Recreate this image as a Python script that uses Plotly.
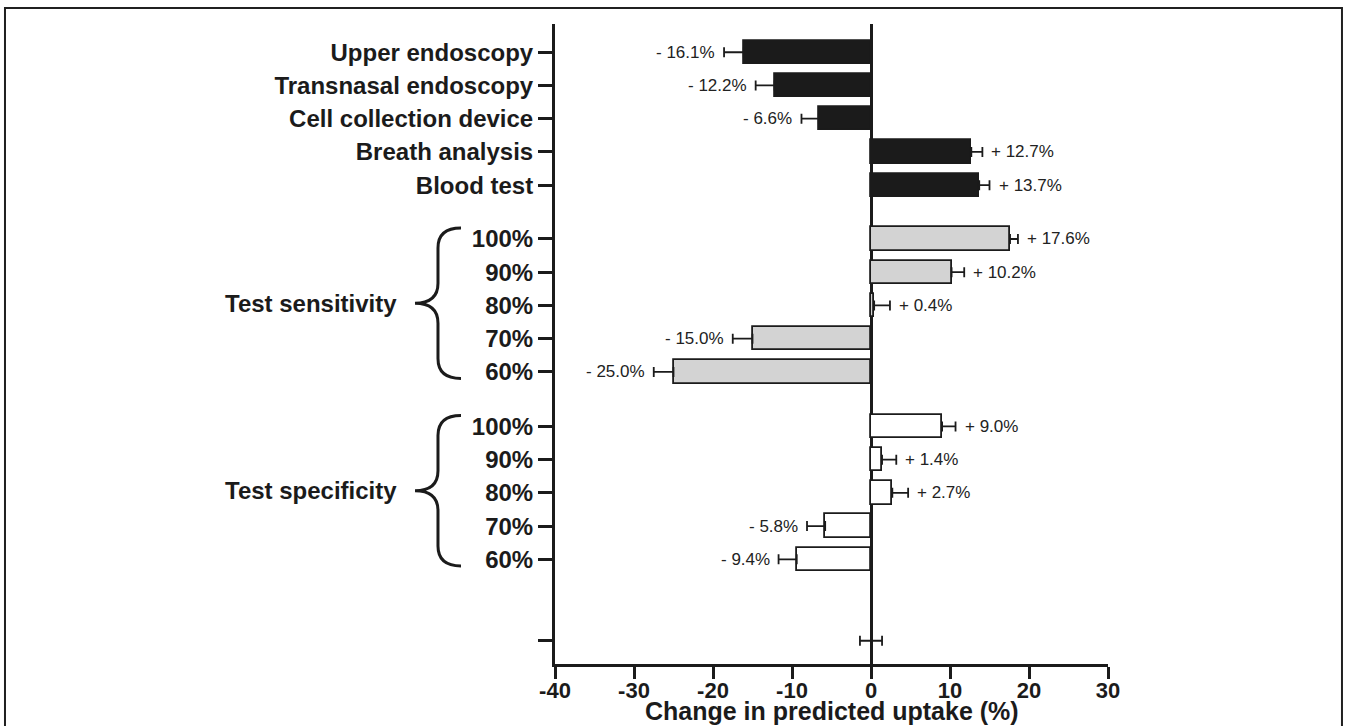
import plotly.graph_objects as go

# ---------------- data ----------------
device_labels = ["Upper endoscopy", "Transnasal endoscopy", "Cell collection device",
                 "Breath analysis", "Blood test"]
device_values = [-16.1, -12.2, -6.6, 12.7, 13.7]
device_err = [2.5, 2.4, 2.2, 1.4, 1.3]

sens_labels = ["100%", "90%", "80%", "70%", "60%"]
sens_values = [17.6, 10.2, 0.4, -15.0, -25.0]
sens_err = [1.0, 1.6, 2.0, 2.5, 2.5]

spec_labels = ["100%", "90%", "80%", "70%", "60%"]
spec_values = [9.0, 1.4, 2.7, -5.8, -9.4]
spec_err = [1.7, 1.8, 2.0, 2.3, 2.3]

reference_value = [0.0]
reference_err = [1.4]

x_tick_values = [-40, -30, -20, -10, 0, 10, 20, 30]
x_tick_labels = ["-40", "-30", "-20", "-10", "0", "10", "20", "30"]

group_names = ["Test sensitivity", "Test specificity"]
x_title = "Change in predicted uptake (%)"

# ---------------- layout helpers ----------------
gaps = [1.62, 1.64, 2.45]
def positions(n, start):
    return [start + i for i in range(n)]
pos_device = positions(len(device_values), 0.0)
pos_sens = positions(len(sens_values), pos_device[-1] + gaps[0])
pos_spec = positions(len(spec_values), pos_sens[-1] + gaps[1])
pos_ref = [pos_spec[-1] + gaps[2]]

BLACK = "#1b1b1b"
GRAY = "#d3d3d3"
WHITE = "#ffffff"
BAR_W = 0.7
FONT = "Liberation Sans"


def one_sided(values, errs):
    plus = [e if v >= 0 else 0 for v, e in zip(values, errs)]
    minus = [e if v < 0 else 0 for v, e in zip(values, errs)]
    return plus, minus


fig = go.Figure()

for vals, errs, pos, fill in [
    (device_values, device_err, pos_device, BLACK),
    (sens_values, sens_err, pos_sens, GRAY),
    (spec_values, spec_err, pos_spec, WHITE),
]:
    plus, minus = one_sided(vals, errs)
    fig.add_trace(go.Bar(
        x=vals, y=pos, orientation="h", width=BAR_W,
        marker=dict(color=fill, line=dict(color=BLACK, width=1.8)),
        error_x=dict(type="data", symmetric=False, array=plus, arrayminus=minus,
                     color=BLACK, thickness=1.8, width=5),
        showlegend=False, hoverinfo="x",
    ))

fig.add_trace(go.Scatter(
    x=reference_value, y=pos_ref, mode="markers",
    marker=dict(size=1, color="rgba(0,0,0,0)"),
    error_x=dict(type="data", array=reference_err, color=BLACK, thickness=1.8, width=5),
    showlegend=False, hoverinfo="skip",
))

annotations = []
for vals, errs, pos in [(device_values, device_err, pos_device),
                        (sens_values, sens_err, pos_sens),
                        (spec_values, spec_err, pos_spec)]:
    for v, e, p in zip(vals, errs, pos):
        if v < 0:
            annotations.append(dict(x=v - e, y=p, xref="x", yref="y",
                                    text="- %.1f%%" % abs(v),
                                    showarrow=False, xanchor="right", xshift=-7,
                                    font=dict(family=FONT, size=17, color="#222")))
        else:
            annotations.append(dict(x=v + e, y=p, xref="x", yref="y",
                                    text="+ %.1f%%" % v,
                                    showarrow=False, xanchor="left", xshift=7,
                                    font=dict(family=FONT, size=17, color="#222")))

shapes = []
x_tip, x_stem, x_end = -0.2532, -0.2116, -0.1700
for name, pos in zip(group_names, [pos_sens, pos_spec]):
    top = pos[0] - 0.33
    bot = pos[-1] + 0.2
    mid = (top + bot) / 2
    d = 0.6
    path = (f"M {x_end},{top} Q {x_stem},{top} {x_stem},{top + d} "
            f"L {x_stem},{mid - d} Q {x_stem},{mid} {x_tip},{mid} "
            f"Q {x_stem},{mid} {x_stem},{mid + d} "
            f"L {x_stem},{bot - d} Q {x_stem},{bot} {x_end},{bot}")
    shapes.append(dict(type="path", path=path, xref="paper", yref="y",
                       line=dict(color=BLACK, width=3)))
    annotations.append(dict(x=-0.282, y=mid, xref="paper", yref="y", text=name,
                            showarrow=False, xanchor="right",
                            font=dict(family=FONT, size=24, color=BLACK, weight="bold")))

# x-axis title
annotations.append(dict(x=0.5, y=-0.074, xref="paper", yref="paper", text=x_title,
                        showarrow=False, xanchor="center", yanchor="middle",
                        font=dict(family=FONT, size=25, color=BLACK, weight="bold")))

# outer frame
shapes.append(dict(type="rect", xref="paper", yref="paper",
                   x0=-0.9946, x1=1.4231, y0=-0.2, y1=1.025,
                   line=dict(color="#202020", width=2), fillcolor="rgba(0,0,0,0)"))

y_tickvals = pos_device + pos_sens + pos_spec + pos_ref
y_ticktext = device_labels + sens_labels + spec_labels + [""]

fig.update_layout(
    width=1349, height=726,
    margin=dict(l=555, r=241, t=24, b=62),
    paper_bgcolor="white", plot_bgcolor="white",
    bargap=0,
    shapes=shapes,
    annotations=annotations,
    xaxis=dict(
        range=[-40, 30], tickvals=x_tick_values, ticktext=x_tick_labels,
        showgrid=False, zeroline=True, zerolinecolor=BLACK, zerolinewidth=3,
        showline=True, linecolor=BLACK, linewidth=3,
        ticks="outside", ticklen=12, tickwidth=3, tickcolor=BLACK,
        ticklabelstandoff=-7,
        tickfont=dict(family=FONT, size=22, color=BLACK, weight="bold"),
        automargin=False, fixedrange=True,
    ),
    yaxis=dict(
        range=[pos_ref[0] + 0.7, -0.85], tickvals=y_tickvals, ticktext=y_ticktext,
        showgrid=False, zeroline=False,
        showline=True, linecolor=BLACK, linewidth=3,
        ticks="outside", ticklen=14, tickwidth=3, tickcolor=BLACK,
        tickfont=dict(family=FONT, size=24, color=BLACK, weight="bold"),
        automargin=False, fixedrange=True,
    ),
)

fig.write_html("out.html", config={"displayModeBar": False},
               post_script="document.body.style.margin='0px';document.body.style.overflow='hidden';")
